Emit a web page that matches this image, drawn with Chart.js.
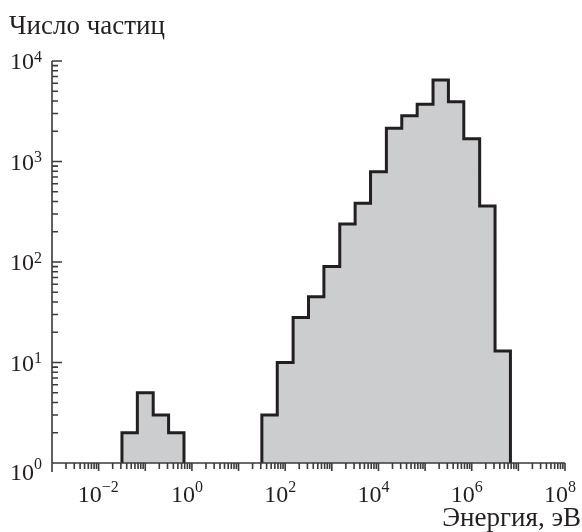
<!DOCTYPE html>
<html>
<head>
<meta charset="utf-8">
<script src="https://cdn.jsdelivr.net/npm/chart.js@4"></script>
<style>
  html, body { margin: 0; padding: 0; background: #fff; }
  #wrap { width: 582px; height: 532px; }
</style>
</head>
<body>
<div id="wrap"><canvas id="histChart" width="582" height="532"></canvas></div>
<script>
// bin edges as powers of ten (1/3 decade bins)
const lowEdges = [-1.5, -1.17, -0.83, -0.5, -0.17];
const lowCounts = [2, 5, 3, 2];
const highEdges = [1.5, 1.83, 2.17, 2.5, 2.83, 3.17, 3.5, 3.83, 4.17, 4.5, 4.83, 5.17, 5.5, 5.83, 6.17, 6.5, 6.83];
const highCounts = [3, 10, 28, 45, 90, 239, 384, 791, 2140, 2857, 3710, 6470, 3935, 1686, 361, 13];

const xTickExps = [-2, 0, 2, 4, 6, 8];
const yTickExps = [0, 1, 2, 3, 4];
const yTitle = 'Число частиц';
const xTitle = 'Энергия, эВ';

const FONT = '"Liberation Serif", "Times New Roman", serif';
const AXIS = '#3a3a3a';

// outline points for one group of bins: up from baseline, steps, back to baseline
function stepPoints(edges, counts) {
  const pts = [{ x: Math.pow(10, edges[0]), y: 1 }];
  counts.forEach((c, i) => pts.push({ x: Math.pow(10, edges[i]), y: c }));
  const last = Math.pow(10, edges[edges.length - 1]);
  pts.push({ x: last, y: counts[counts.length - 1] });
  pts.push({ x: last, y: 1 });
  return pts;
}

function groupDataset(edges, counts) {
  return {
    data: stepPoints(edges, counts),
    stepped: 'before',
    borderColor: '#231f20',
    borderWidth: 3,
    backgroundColor: '#cccdcf',
    fill: 'start',
    pointRadius: 0,
    clip: false
  };
}

const axesPlugin = {
  id: 'axesPlugin',
  afterDatasetsDraw(chart) {
    const ctx = chart.ctx;
    const xs = chart.scales.x;
    const ys = chart.scales.y;
    const left = xs.getPixelForValue(1e-3);
    const right = xs.getPixelForValue(1e8);
    const base = ys.getPixelForValue(1);
    const top = ys.getPixelForValue(1e4);

    ctx.save();
    ctx.strokeStyle = AXIS;
    ctx.lineWidth = 1.6;
    ctx.beginPath();
    ctx.moveTo(left, top);
    ctx.lineTo(left, base + 9);
    ctx.moveTo(left, base);
    ctx.lineTo(right, base);

    // x ticks point down
    for (let e = -3; e <= 8; e++) {
      for (let m = 1; m <= 9; m++) {
        const v = m * Math.pow(10, e);
        if (v > 1e8 * 1.001) break;
        const px = xs.getPixelForValue(v);
        const len = m === 1 ? 8 : 6;
        ctx.moveTo(px, base);
        ctx.lineTo(px, base + len);
      }
    }
    // y ticks point right
    for (let e = 0; e <= 4; e++) {
      for (let m = 1; m <= 9; m++) {
        const v = m * Math.pow(10, e);
        if (v > 1e4 * 1.001) break;
        const py = ys.getPixelForValue(v);
        const len = m === 1 ? 10 : 6;
        ctx.moveTo(left, py);
        ctx.lineTo(left + len, py);
      }
    }
    ctx.stroke();

    ctx.fillStyle = '#231f20';
    ctx.textBaseline = 'alphabetic';

    // x tick labels
    xTickExps.forEach(e => {
      const px = xs.getPixelForValue(Math.pow(10, e));
      ctx.font = '24px ' + FONT;
      ctx.textAlign = 'right';
      ctx.fillText('10', px + 3, 502);
      ctx.font = '16px ' + FONT;
      ctx.textAlign = 'left';
      ctx.fillText(e < 0 ? '\u2212' + Math.abs(e) : String(e), px + 3, 492);
    });

    // y tick labels
    yTickExps.forEach(e => {
      const py = ys.getPixelForValue(Math.pow(10, e));
      const shift = e === 0 ? 8.5 : 0;
      ctx.font = '24px ' + FONT;
      ctx.textAlign = 'right';
      ctx.fillText('10', 34, py + 8 + shift);
      ctx.font = '16px ' + FONT;
      ctx.textAlign = 'left';
      ctx.fillText(String(e), 34, py + 0.5 + shift * 0.6);
    });

    // titles
    ctx.font = '27px ' + FONT;
    ctx.textAlign = 'left';
    ctx.fillText(yTitle, 9, 34);
    ctx.textAlign = 'right';
    ctx.fillText(xTitle, 581, 526);
    ctx.restore();
  }
};

new Chart(document.getElementById('histChart').getContext('2d'), {
  type: 'line',
  data: {
    datasets: [groupDataset(lowEdges, lowCounts), groupDataset(highEdges, highCounts)]
  },
  options: {
    responsive: false,
    animation: false,
    events: [],
    layout: { padding: { left: 52, right: 17, top: 61, bottom: 69 } },
    plugins: { legend: { display: false }, tooltip: { enabled: false } },
    scales: {
      x: { type: 'logarithmic', min: 1e-3, max: 1e8, display: false },
      y: { type: 'logarithmic', min: 1, max: 1e4, display: false }
    }
  },
  plugins: [axesPlugin]
});
</script>
</body>
</html>
